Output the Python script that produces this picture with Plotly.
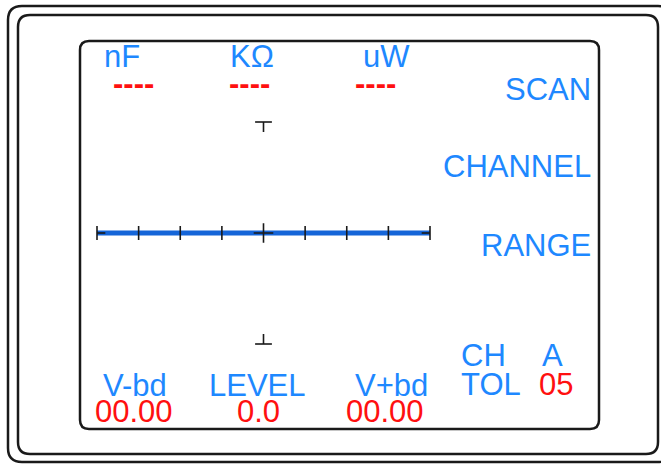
import plotly.graph_objects as go

W, H = 661, 464

# ---- data ----
unit_labels = ["nF", "KΩ", "uW"]
unit_values = ["----", "----", "----"]
side_labels = ["SCAN", "CHANNEL", "RANGE"]
bottom_labels = ["V-bd", "LEVEL", "V+bd"]
bottom_values = ["00.00", "0.0", "00.00"]
ch_labels = ["CH", "TOL"]
ch_values = ["A", "05"]
scale_ticks = [-4, -3, -2, -1, 0, 1, 2, 3, 4]
level = 0.0
level_span = [-1.0, 1.0]

BLUE_TXT = "#1E88FF"
BLUE_LINE = "#1565D8"
RED = "#FF1010"
INK = "#1a1a1a"
FONT = "Liberation Sans, Arial, sans-serif"
FS = 31

fig = go.Figure()


def rrect(x0, y0, x1, y1, r):
    return (f"M {x0+r},{y0} L {x1-r},{y0} Q {x1},{y0} {x1},{y0+r} "
            f"L {x1},{y1-r} Q {x1},{y1} {x1-r},{y1} L {x0+r},{y1} "
            f"Q {x0},{y1} {x0},{y1-r} L {x0},{y0+r} Q {x0},{y0} {x0+r},{y0} Z")


shapes = [
    dict(type="path", path=rrect(8, 6, 672, 462, 14), xref="x", yref="y",
         line=dict(color=INK, width=2.5)),
    dict(type="path", path=rrect(18, 15, 658, 454, 12), xref="x", yref="y",
         line=dict(color=INK, width=2.5)),
    dict(type="path", path=rrect(80, 41, 599, 429, 9), xref="x", yref="y",
         line=dict(color=INK, width=2.5)),
]

# scale bar on its own axes
fig.add_trace(go.Scatter(x=[scale_ticks[0], scale_ticks[-1]], y=[level, level],
                         mode="lines", line=dict(color=BLUE_LINE, width=5),
                         xaxis="x2", yaxis="y2", hoverinfo="skip", cliponaxis=False))
fig.add_trace(go.Scatter(x=[t for t in scale_ticks if t != level], y=[level] * (len(scale_ticks) - 1),
                         mode="markers", xaxis="x2", yaxis="y2", cliponaxis=False,
                         marker=dict(symbol="line-ns", size=10, line=dict(color=INK, width=1.6)),
                         hoverinfo="skip"))
fig.add_trace(go.Scatter(x=[level], y=[level], mode="markers", xaxis="x2", yaxis="y2",
                         cliponaxis=False,
                         marker=dict(symbol="cross-thin", size=14, line=dict(color=INK, width=1.6)),
                         hoverinfo="skip"))
cap = 0.2
for end, d in ((scale_ticks[0], cap), (scale_ticks[-1], -cap)):
    fig.add_trace(go.Scatter(x=[end, end + d], y=[level, level], mode="lines",
                             xaxis="x2", yaxis="y2", cliponaxis=False,
                             line=dict(color=INK, width=1.6), hoverinfo="skip"))
# vertical span caps (T and ⊥)
stem = 0.09
for v, d in ((level_span[1], -stem), (level_span[0], stem)):
    fig.add_trace(go.Scatter(x=[level, level], y=[v, v + d], mode="lines",
                             xaxis="x2", yaxis="y2", cliponaxis=False,
                             line=dict(color=INK, width=1.6), hoverinfo="skip"))
    fig.add_trace(go.Scatter(x=[level], y=[v], mode="markers", xaxis="x2", yaxis="y2",
                             cliponaxis=False,
                             marker=dict(symbol="line-ew", size=12, line=dict(color=INK, width=1.6)),
                             hoverinfo="skip"))

ann = []


def txt(s, x, y, color, xanchor="center", weight="normal", size=FS):
    ann.append(dict(text=s, x=x, y=y, xref="x", yref="y", showarrow=False,
                    xanchor=xanchor, yanchor="middle",
                    font=dict(family=FONT, size=size, color=color, weight=weight)))


for s, cx in zip(unit_labels, [122, 252, 386]):
    txt(s, cx, 56, BLUE_TXT)
for s, cx in zip(unit_values, [133, 249, 375]):
    txt(s, cx, 83, RED, weight="bold")
for s, cy in zip(side_labels, [89, 166, 245]):
    txt(s, 593, cy, BLUE_TXT, xanchor="right")
for s, cx in zip(bottom_labels, [135, 257, 391]):
    txt(s, cx, 385, BLUE_TXT)
for s, cx in zip(bottom_values, [134, 258, 385]):
    txt(s, cx, 411, RED)
txt(ch_labels[0], 459, 355, BLUE_TXT, xanchor="left")
txt(ch_labels[1], 459, 384, BLUE_TXT, xanchor="left")
txt(ch_values[0], 552, 355, BLUE_TXT)
txt(ch_values[1], 556, 384, RED)

fig.update_layout(
    width=W, height=H, margin=dict(l=0, r=0, t=0, b=0),
    paper_bgcolor="white", plot_bgcolor="rgba(0,0,0,0)", showlegend=False,
    xaxis=dict(range=[0, W], visible=False, fixedrange=True),
    yaxis=dict(range=[H, 0], visible=False, fixedrange=True),
    xaxis2=dict(domain=[97 / W, 430 / W], range=[scale_ticks[0], scale_ticks[-1]],
                visible=False, anchor="y2"),
    yaxis2=dict(domain=[1 - 344 / H, 1 - 122 / H], range=[-1, 1],
                visible=False, anchor="x2"),
    shapes=shapes, annotations=ann,
)

fig.write_html("out.html", config={"displayModeBar": False},
               post_script="document.body.style.margin='0';document.body.style.overflow='hidden';")
